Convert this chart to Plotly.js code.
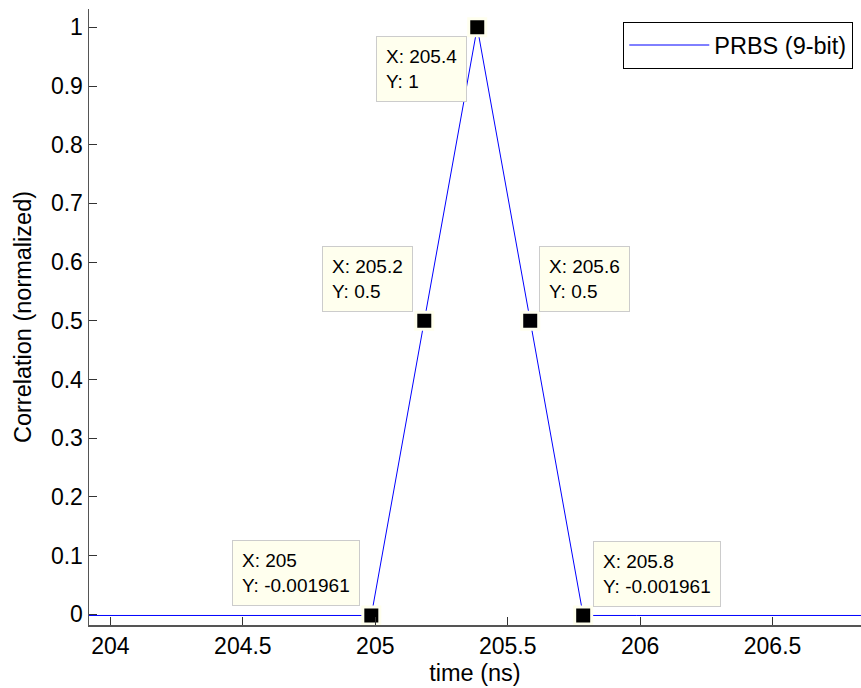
<!DOCTYPE html>
<html>
<head>
<meta charset="utf-8">
<script src="https://cdn.plot.ly/plotly-3.0.1.min.js"></script>
<style>
  html, body { margin: 0; padding: 0; background: #fff; }
  #chart { width: 861px; height: 688px; }
</style>
</head>
<body>
<div id="chart"></div>
<script>
// ---- data ----
const timeNs = [203.785, 203.985, 204.185, 204.385, 204.585, 204.785, 204.985, 205.185, 205.385,
                205.585, 205.785, 205.985, 206.185, 206.385, 206.585, 206.785, 206.985];
const correlation = [-0.001961, -0.001961, -0.001961, -0.001961, -0.001961, -0.001961, -0.001961, 0.5, 1,
                     0.5, -0.001961, -0.001961, -0.001961, -0.001961, -0.001961, -0.001961, -0.001961];
const seriesName = 'PRBS (9-bit)';

// data tips
const tipX = [204.985, 205.185, 205.385, 205.585, 205.785];
const tipY = [-0.001961, 0.5, 1, 0.5, -0.001961];
const tipXText = ['205', '205.2', '205.4', '205.6', '205.8'];
const tipYText = ['-0.001961', '0.5', '1', '0.5', '-0.001961'];

// ticks
const xTickVals = [204, 204.5, 205, 205.5, 206, 206.5];
const xTickText = ['204', '204.5', '205', '205.5', '206', '206.5'];
const yTickVals = [0, 0.1, 0.2, 0.3, 0.4, 0.5, 0.6, 0.7, 0.8, 0.9, 1];
const yTickText = ['0', '0.1', '0.2', '0.3', '0.4', '0.5', '0.6', '0.7', '0.8', '0.9', '1'];

// ---- styling ----
const FONT = 'Arial, "Liberation Sans", Helvetica, sans-serif';
// placement of each tip box relative to its point: [xanchor, yanchor, xshift, yshift]
const tipPlace = [
  ['right', 'bottom', -11, 9],
  ['right', 'bottom', -11, 9],
  ['right', 'top', -10, -9],
  ['left', 'bottom', 9, 9],
  ['left', 'bottom', 10, 8]
];

const traces = [
  {
    x: timeNs, y: correlation, type: 'scatter', mode: 'lines',
    name: seriesName,
    line: { color: '#0000FF', width: 1 },
    hoverinfo: 'x+y'
  },
  {
    x: tipX, y: tipY, type: 'scatter', mode: 'markers',
    showlegend: false,
    marker: { symbol: 'square', size: 17, color: '#000000', line: { color: '#FFFFEE', width: 3 } },
    hoverinfo: 'skip'
  }
];

const annotations = tipX.map((xv, i) => ({
  x: xv, y: tipY[i], xref: 'x', yref: 'y',
  text: 'X: ' + tipXText[i] + '<br>Y: ' + tipYText[i],
  showarrow: false, align: 'left',
  xanchor: tipPlace[i][0], yanchor: tipPlace[i][1],
  xshift: tipPlace[i][2], yshift: tipPlace[i][3],
  bgcolor: '#FFFFEE', bordercolor: '#CCCCCC', borderwidth: 1, borderpad: 9,
  font: { family: FONT, size: 19, color: '#000' }
}));

const layout = {
  width: 861, height: 688,
  margin: { l: 89, r: 0, t: 9, b: 63, pad: 0 },
  paper_bgcolor: '#ffffff', plot_bgcolor: '#ffffff',
  font: { family: FONT, size: 23, color: '#000' },
  showlegend: true,
  legend: {
    x: 0.6917, y: 0.979, xanchor: 'left', yanchor: 'top',
    bgcolor: '#ffffff', bordercolor: '#000000', borderwidth: 1.3,
    font: { family: FONT, size: 23.5, color: '#000' },
    itemwidth: 80
  },
  xaxis: {
    range: [203.919, 206.834],
    tickvals: xTickVals, ticktext: xTickText,
    ticks: 'inside', ticklen: 8, tickwidth: 1, tickcolor: '#333',
    showline: true, linecolor: '#555', linewidth: 1.5, mirror: false,
    showgrid: false, zeroline: false,
    tickfont: { family: FONT, size: 23, color: '#000' },
    title: { text: 'time (ns)', font: { family: FONT, size: 23.5, color: '#000' }, standoff: 6 }
  },
  yaxis: {
    range: [-0.0182, 1.0312],
    tickvals: yTickVals, ticktext: yTickText,
    ticks: 'inside', ticklen: 8, tickwidth: 1, tickcolor: '#333',
    showline: true, linecolor: '#555', linewidth: 1.5, mirror: false,
    showgrid: false, zeroline: false,
    tickfont: { family: FONT, size: 23, color: '#000' },
    title: { text: 'Correlation (normalized)', font: { family: FONT, size: 23.5, color: '#000' }, standoff: 12 }
  },
  annotations: annotations
};

Plotly.newPlot('chart', traces, layout, { staticPlot: true, displayModeBar: false });
</script>
</body>
</html>
